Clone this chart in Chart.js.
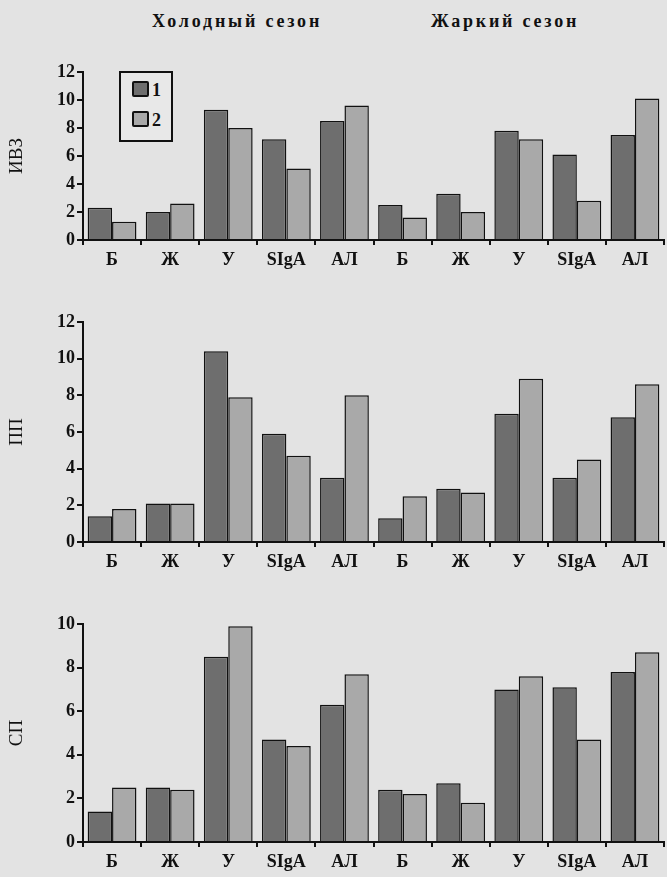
<!DOCTYPE html>
<html>
<head>
<meta charset="utf-8">
<script src="https://cdn.jsdelivr.net/npm/chart.js@4.4.1/dist/chart.umd.min.js"></script>
<style>
  html, body { margin:0; padding:0; background:#e3e3e3; }
  #page { position:relative; width:667px; height:877px; overflow:hidden; background:#e3e3e3; }
  canvas { position:absolute; left:0; }
  .season { position:absolute; top:11px; font:bold 18px 'Liberation Serif', serif; letter-spacing:2.8px; color:#111; white-space:nowrap; }
  .legend-box { position:absolute; left:119px; top:71px; width:50px; height:67px; border:2px solid #111; background:#e8e8e8; }
  .legend-row { position:absolute; left:11px; font:bold 18px 'Liberation Serif', serif; color:#111; }
  .legend-row span { display:inline-block; width:13px; height:12px; border:2px solid #111; border-radius:2px; vertical-align:-1px; margin-right:3px; }
</style>
</head>
<body>
<div id="page">
  <div class="season" style="left:152px">Холодный сезон</div>
  <div class="season" style="left:431px">Жаркий сезон</div>
  <canvas id="c1"></canvas>
  <canvas id="c2"></canvas>
  <canvas id="c3"></canvas>
  <div class="legend-box">
    <div class="legend-row" style="top:7px"><span id="sw1"></span>1</div>
    <div class="legend-row" style="top:37px"><span id="sw2"></span>2</div>
  </div>
</div>
<script>
const categories = ['Б','Ж','У','SIgA','АЛ','Б','Ж','У','SIgA','АЛ'];
const seriesNames = ['1','2'];

// ИВЗ
const ivz1 = [2.3, 2.0, 9.3, 7.2, 8.5, 2.5, 3.3, 7.8, 6.1, 7.5];
const ivz2 = [1.3, 2.6, 8.0, 5.1, 9.6, 1.6, 2.0, 7.2, 2.8, 10.1];
// ПП
const pp1 = [1.4, 2.1, 10.4, 5.9, 3.5, 1.3, 2.9, 7.0, 3.5, 6.8];
const pp2 = [1.8, 2.1, 7.9, 4.7, 8.0, 2.5, 2.7, 8.9, 4.5, 8.6];
// СП
const sp1 = [1.4, 2.5, 8.5, 4.7, 6.3, 2.4, 2.7, 7.0, 7.1, 7.8];
const sp2 = [2.5, 2.4, 9.9, 4.4, 7.7, 2.2, 1.8, 7.6, 4.7, 8.7];

const yTicks12 = [0, 2, 4, 6, 8, 10, 12];
const yTicks10 = [0, 2, 4, 6, 8, 10];

const DARK = '#6e6e6e', LIGHT = '#a9a9a9';
document.getElementById('sw1').style.background = DARK;
document.getElementById('sw2').style.background = LIGHT;

const serif = "'Liberation Serif', 'DejaVu Serif', serif";

function makeChart(id, top, height, title, d1, d2, ticks, xH) {
  const cv = document.getElementById(id);
  cv.width = 667; cv.height = height;
  cv.style.top = top + 'px';
  cv.style.width = '667px'; cv.style.height = height + 'px';
  const ymax = ticks[ticks.length - 1];
  return new Chart(cv.getContext('2d'), {
    type: 'bar',
    data: {
      labels: categories,
      datasets: [
        { label: seriesNames[0], data: d1, backgroundColor: DARK, borderColor: '#111', borderWidth: 1.5, borderSkipped: 'bottom' },
        { label: seriesNames[1], data: d2, backgroundColor: LIGHT, borderColor: '#111', borderWidth: 1.5, borderSkipped: 'bottom' }
      ]
    },
    options: {
      responsive: false, animation: false,
      layout: { padding: { top: 20, right: 3, left: 0, bottom: 0 } },
      datasets: { bar: { categoryPercentage: 0.84, barPercentage: 1.0 } },
      plugins: { legend: { display: false }, tooltip: { enabled: false } },
      scales: {
        x: {
          grid: { display: true, drawOnChartArea: false, offset: true, tickLength: 5, color: '#111', lineWidth: 2 },
          border: { display: true, color: '#111', width: 2 },
          ticks: { color: '#111', font: { family: serif, size: 18, weight: 'bold' }, padding: 5, maxRotation: 0, autoSkip: false },
          afterFit: s => { s.height = xH; }
        },
        y: {
          min: 0, max: ymax,
          afterBuildTicks: s => { s.ticks = ticks.map(v => ({ value: v })); },
          grid: { display: true, drawOnChartArea: false, tickLength: 6, color: '#111', lineWidth: 2 },
          border: { display: true, color: '#111', width: 2 },
          ticks: { color: '#111', font: { family: serif, size: 18, weight: 'bold' }, padding: 2 },
          title: { display: true, text: title, color: '#111', font: { family: serif, size: 19 }, padding: { top: 6, bottom: 0 } },
          afterFit: s => { s.width = 83; }
        }
      }
    }
  });
}

makeChart('c1', 52, 228, 'ИВЗ', ivz1, ivz2, yTicks12, 40);
makeChart('c2', 302, 280, 'ПП', pp1, pp2, yTicks12, 40);
makeChart('c3', 604, 273, 'СП', sp1, sp2, yTicks10, 35);
</script>
</body>
</html>
